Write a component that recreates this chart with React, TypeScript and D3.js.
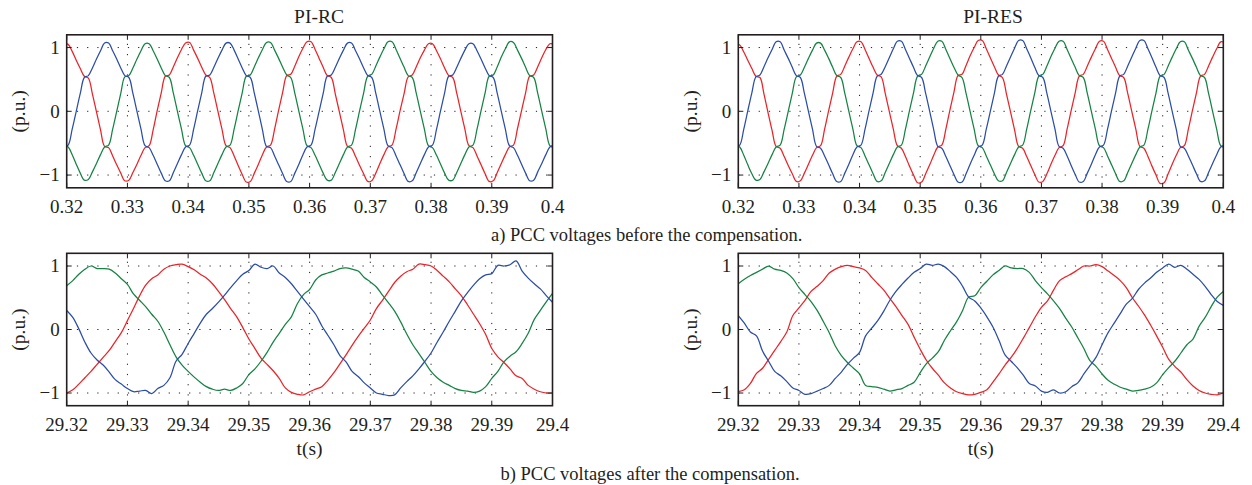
import React from 'react';
import * as d3 from 'd3';

// ---------- data ----------
// Top row: samples every 1/1500 s starting at 0.31957 s (122 samples)
const TOP_T0 = 0.31957;
const TOP_DT = 1 / 1500;
// Bottom row: samples every 1 ms starting at 29.32 s (81 samples)
const BOT_T0 = 29.32;
const BOT_DT = 0.001;

const TOP_X_TICKS = [0.32, 0.33, 0.34, 0.35, 0.36, 0.37, 0.38, 0.39, 0.4];
const TOP_X_LABELS = ['0.32', '0.33', '0.34', '0.35', '0.36', '0.37', '0.38', '0.39', '0.4'];
const BOT_X_TICKS = [29.32, 29.33, 29.34, 29.35, 29.36, 29.37, 29.38, 29.39, 29.4];
const BOT_X_LABELS = ['29.32', '29.33', '29.34', '29.35', '29.36', '29.37', '29.38', '29.39', '29.4'];
const Y_TICKS = [-1, 0, 1];
const Y_LABELS = ['\u22121', '0', '1'];

const RC_RED = [1.06,
  1.05, 0.94, 0.80, 0.67, 0.55, 0.52, 0.27, -0.01, -0.29, -0.55, -0.57, -0.70, -0.84, -0.97, -1.09, -1.08, -0.96, -0.83, -0.69, -0.57, -0.54, -0.29, 0.01, 0.29, 0.55, 0.57, 0.70, 0.84, 0.97, 1.07,
  1.08, 0.96, 0.83, 0.69, 0.57, 0.53, 0.28, 0.00, -0.28, -0.54, -0.57, -0.70, -0.85, -0.99, -1.11, -1.10, -0.97, -0.83, -0.68, -0.56, -0.53, -0.28, 0.02, 0.30, 0.56, 0.58, 0.71, 0.86, 0.99, 1.09,
  1.09, 0.97, 0.83, 0.69, 0.56, 0.53, 0.27, -0.01, -0.29, -0.55, -0.58, -0.71, -0.85, -0.98, -1.10, -1.09, -0.97, -0.82, -0.68, -0.56, -0.53, -0.28, 0.01, 0.28, 0.54, 0.57, 0.70, 0.84, 0.96, 1.06,
  1.06, 0.95, 0.82, 0.68, 0.56, 0.53, 0.28, 0.00, -0.28, -0.54, -0.57, -0.70, -0.84, -0.98, -1.10, -1.09, -0.96, -0.82, -0.68, -0.56, -0.53, -0.27, 0.01, 0.29, 0.55, 0.57, 0.70, 0.84, 0.97, 1.06,
  1.05];
const RC_BLUE = [-0.56,
  -0.53, -0.28, 0.00, 0.28, 0.53, 0.56, 0.68, 0.82, 0.95, 1.07,
  1.07, 0.95, 0.82, 0.68, 0.56, 0.53, 0.28, 0.00, -0.28, -0.54, -0.57, -0.69, -0.83, -0.97, -1.09, -1.09, -0.96, -0.82, -0.68, -0.56, -0.53, -0.28, 0.01, 0.29, 0.55, 0.57, 0.69, 0.83, 0.96, 1.07,
  1.07, 0.96, 0.82, 0.68, 0.56, 0.53, 0.28, 0.00, -0.29, -0.55, -0.57, -0.70, -0.84, -0.98, -1.10, -1.10, -0.97, -0.83, -0.68, -0.56, -0.53, -0.28, 0.00, 0.28, 0.55, 0.57, 0.69, 0.83, 0.96, 1.07,
  1.07, 0.95, 0.82, 0.68, 0.56, 0.53, 0.28, 0.00, -0.28, -0.54, -0.57, -0.70, -0.84, -0.98, -1.10, -1.09, -0.96, -0.82, -0.68, -0.56, -0.53, -0.28, 0.01, 0.29, 0.55, 0.57, 0.69, 0.83, 0.96, 1.06,
  1.06, 0.95, 0.82, 0.68, 0.56, 0.53, 0.28, 0.00, -0.28, -0.54, -0.57, -0.69, -0.83, -0.97, -1.09, -1.08, -0.95, -0.82, -0.68, -0.56, -0.53];
const RC_GREEN = [-0.53,
  -0.56, -0.68, -0.83, -0.97, -1.08, -1.07, -0.95, -0.82, -0.68, -0.56, -0.53, -0.28, 0.00, 0.28, 0.54, 0.56, 0.68, 0.82, 0.95, 1.06,
  1.06, 0.95, 0.82, 0.68, 0.56, 0.53, 0.28, 0.00, -0.28, -0.54, -0.57, -0.69, -0.83, -0.97, -1.09, -1.09, -0.96, -0.82, -0.68, -0.56, -0.53, -0.28, 0.01, 0.29, 0.55, 0.57, 0.70, 0.84, 0.97, 1.08,
  1.08, 0.96, 0.83, 0.69, 0.57, 0.53, 0.28, 0.00, -0.28, -0.54, -0.57, -0.69, -0.83, -0.97, -1.08, -1.08, -0.96, -0.82, -0.68, -0.56, -0.53, -0.28, 0.01, 0.29, 0.55, 0.58, 0.71, 0.85, 0.98, 1.09,
  1.09, 0.97, 0.83, 0.69, 0.56, 0.53, 0.28, 0.00, -0.28, -0.54, -0.57, -0.69, -0.83, -0.97, -1.08, -1.08, -0.96, -0.82, -0.68, -0.56, -0.53, -0.28, 0.01, 0.29, 0.55, 0.57, 0.70, 0.85, 0.98, 1.09,
  1.08, 0.96, 0.83, 0.69, 0.56, 0.53, 0.28, 0.00, -0.28, -0.54, -0.57];

const RES_RED = [1.05,
  1.04, 0.93, 0.80, 0.67, 0.55, 0.53, 0.27, -0.02, -0.30, -0.55, -0.58, -0.71, -0.85, -0.98, -1.10, -1.09, -0.97, -0.83, -0.69, -0.57, -0.54, -0.28, 0.01, 0.29, 0.55, 0.58, 0.71, 0.85, 0.98, 1.09,
  1.09, 0.97, 0.83, 0.69, 0.57, 0.54, 0.28, 0.00, -0.28, -0.54, -0.58, -0.71, -0.86, -1.00, -1.12, -1.11, -0.98, -0.84, -0.69, -0.56, -0.53, -0.28, 0.02, 0.30, 0.56, 0.58, 0.72, 0.87, 1.00, 1.11,
  1.11, 0.98, 0.84, 0.70, 0.57, 0.53, 0.27, -0.01, -0.29, -0.55, -0.58, -0.71, -0.85, -0.99, -1.11, -1.10, -0.98, -0.83, -0.69, -0.57, -0.54, -0.28, 0.01, 0.29, 0.55, 0.58, 0.71, 0.85, 0.98, 1.10,
  1.10, 0.97, 0.83, 0.69, 0.56, 0.53, 0.28, 0.00, -0.28, -0.55, -0.58, -0.71, -0.86, -1.00, -1.13, -1.12, -0.98, -0.83, -0.69, -0.57, -0.54, -0.28, 0.01, 0.29, 0.55, 0.58, 0.71, 0.85, 0.98, 1.09,
  1.08];
const RES_BLUE = [-0.56,
  -0.53, -0.28, 0.01, 0.29, 0.54, 0.57, 0.70, 0.84, 0.97, 1.09,
  1.09, 0.96, 0.83, 0.69, 0.56, 0.53, 0.28, 0.00, -0.28, -0.55, -0.58, -0.70, -0.84, -0.98, -1.10, -1.10, -0.97, -0.83, -0.68, -0.56, -0.53, -0.28, 0.01, 0.29, 0.55, 0.58, 0.70, 0.84, 0.98, 1.10,
  1.10, 0.97, 0.83, 0.69, 0.56, 0.53, 0.28, 0.00, -0.29, -0.55, -0.58, -0.71, -0.85, -0.99, -1.11, -1.11, -0.98, -0.83, -0.69, -0.56, -0.53, -0.28, 0.00, 0.28, 0.55, 0.58, 0.71, 0.85, 0.99, 1.11,
  1.11, 0.98, 0.84, 0.69, 0.56, 0.53, 0.28, 0.00, -0.28, -0.55, -0.58, -0.70, -0.85, -0.99, -1.11, -1.10, -0.97, -0.83, -0.68, -0.56, -0.53, -0.28, 0.01, 0.29, 0.55, 0.58, 0.71, 0.85, 0.99, 1.11,
  1.11, 0.98, 0.84, 0.69, 0.56, 0.53, 0.28, 0.00, -0.28, -0.55, -0.58, -0.70, -0.84, -0.98, -1.10, -1.09, -0.96, -0.82, -0.68, -0.56, -0.53];
const RES_GREEN = [-0.53,
  -0.56, -0.69, -0.84, -0.98, -1.08, -1.07, -0.95, -0.82, -0.68, -0.56, -0.53, -0.28, 0.00, 0.28, 0.54, 0.57, 0.69, 0.83, 0.96, 1.07,
  1.07, 0.96, 0.83, 0.69, 0.56, 0.53, 0.28, 0.00, -0.28, -0.54, -0.57, -0.70, -0.84, -0.98, -1.10, -1.09, -0.96, -0.82, -0.68, -0.56, -0.53, -0.28, 0.01, 0.29, 0.55, 0.58, 0.71, 0.85, 0.99, 1.10,
  1.10, 0.97, 0.83, 0.69, 0.57, 0.53, 0.28, 0.00, -0.28, -0.54, -0.57, -0.70, -0.84, -0.98, -1.09, -1.09, -0.96, -0.82, -0.68, -0.56, -0.53, -0.28, 0.01, 0.29, 0.55, 0.58, 0.71, 0.86, 0.99, 1.10,
  1.10, 0.97, 0.83, 0.69, 0.56, 0.53, 0.28, 0.00, -0.28, -0.54, -0.57, -0.70, -0.84, -0.98, -1.10, -1.09, -0.96, -0.82, -0.68, -0.56, -0.53, -0.28, 0.01, 0.29, 0.55, 0.58, 0.71, 0.85, 0.98, 1.09,
  1.09, 0.96, 0.83, 0.69, 0.56, 0.53, 0.28, 0.00, -0.28, -0.54, -0.57];

const BL_RED = [-1.00, -0.95, -0.86, -0.76, -0.66, -0.55, -0.44, -0.33, -0.19, -0.05,
  0.14, 0.33, 0.53, 0.70, 0.80, 0.86, 0.95, 1.00, 1.02, 1.03,
  0.99, 0.94, 0.87, 0.81, 0.72, 0.60, 0.47, 0.33, 0.20, 0.03,
  -0.15, -0.30, -0.45, -0.55, -0.65, -0.77, -0.92, -0.99, -1.02, -1.03,
  -0.98, -0.94, -0.90, -0.80, -0.68, -0.54, -0.40, -0.25, -0.11, 0.02,
  0.15, 0.33, 0.46, 0.60, 0.74, 0.84, 0.91, 0.95, 1.03, 1.02,
  1.00, 0.93, 0.84, 0.75, 0.64, 0.53, 0.39, 0.24, 0.09, -0.08,
  -0.30, -0.43, -0.52, -0.62, -0.73, -0.77, -0.88, -0.94, -0.98, -1.00,
  -1.00];
const BL_GREEN = [0.69, 0.77, 0.87, 0.95, 1.00, 0.96, 0.96, 0.95, 0.89, 0.80,
  0.71, 0.56, 0.46, 0.36, 0.24, 0.13, -0.04, -0.24, -0.43, -0.56,
  -0.66, -0.75, -0.83, -0.90, -0.94, -0.96, -0.94, -0.96, -0.92, -0.85,
  -0.71, -0.62, -0.50, -0.36, -0.20, -0.06, 0.08, 0.20, 0.41, 0.55,
  0.63, 0.78, 0.86, 0.89, 0.92, 0.96, 0.97, 0.95, 0.92, 0.82,
  0.75, 0.67, 0.54, 0.42, 0.29, 0.12, -0.07, -0.24, -0.38, -0.52,
  -0.66, -0.76, -0.83, -0.88, -0.93, -0.96, -0.97, -0.99, -0.97, -0.90,
  -0.77, -0.66, -0.51, -0.42, -0.35, -0.22, -0.06, 0.16, 0.30, 0.44,
  0.57];
const BL_BLUE = [0.30, 0.19, 0.01, -0.20, -0.37, -0.48, -0.56, -0.67, -0.79, -0.86,
  -0.93, -0.98, -0.97, -0.96, -1.01, -0.93, -0.88, -0.76, -0.50, -0.39,
  -0.22, -0.06, 0.10, 0.24, 0.33, 0.43, 0.54, 0.66, 0.77, 0.87,
  0.93, 1.03, 0.98, 0.96, 1.00, 0.89, 0.82, 0.72, 0.60, 0.48,
  0.36, 0.24, 0.06, -0.09, -0.24, -0.41, -0.51, -0.66, -0.74, -0.84,
  -0.92, -1.00, -1.02, -1.04, -1.03, -0.92, -0.82, -0.73, -0.62, -0.50,
  -0.37, -0.20, -0.04, 0.13, 0.29, 0.45, 0.58, 0.70, 0.80, 0.86,
  0.88, 1.01, 1.00, 1.02, 1.08, 0.92, 0.81, 0.72, 0.64, 0.53,
  0.43];

const BR_RED = [-0.98, -0.95, -0.85, -0.69, -0.61, -0.47, -0.33, -0.19, -0.04, 0.22,
  0.34, 0.46, 0.60, 0.68, 0.77, 0.89, 0.95, 0.99, 1.01, 0.99,
  0.97, 0.93, 0.82, 0.72, 0.62, 0.49, 0.36, 0.22, 0.08, -0.12,
  -0.31, -0.48, -0.61, -0.72, -0.84, -0.92, -0.98, -1.01, -1.03, -1.02,
  -0.99, -0.95, -0.83, -0.70, -0.56, -0.44, -0.30, -0.14, 0.03, 0.20,
  0.35, 0.45, 0.62, 0.77, 0.83, 0.88, 0.94, 1.00, 1.00, 1.02,
  0.99, 0.92, 0.85, 0.77, 0.66, 0.50, 0.37, 0.23, 0.07, -0.10,
  -0.28, -0.47, -0.58, -0.67, -0.79, -0.89, -0.96, -1.00, -1.02, -1.03,
  -1.00];
const BR_GREEN = [0.72, 0.79, 0.85, 0.90, 0.95, 1.00, 0.95, 0.93, 0.89, 0.80,
  0.66, 0.55, 0.44, 0.30, 0.13, -0.05, -0.26, -0.41, -0.52, -0.61,
  -0.70, -0.88, -0.90, -0.91, -0.94, -0.97, -0.95, -0.93, -0.88, -0.83,
  -0.68, -0.54, -0.45, -0.35, -0.17, -0.02, 0.12, 0.30, 0.51, 0.53,
  0.66, 0.76, 0.86, 0.93, 1.00, 0.97, 0.96, 0.96, 0.90, 0.77,
  0.66, 0.56, 0.45, 0.33, 0.18, 0.04, -0.13, -0.30, -0.49, -0.58,
  -0.70, -0.80, -0.86, -0.91, -0.94, -0.97, -0.96, -0.94, -0.91, -0.84,
  -0.71, -0.60, -0.50, -0.37, -0.24, -0.15, 0.05, 0.19, 0.36, 0.51,
  0.60];
const BR_BLUE = [0.22, 0.10, -0.04, -0.10, -0.34, -0.50, -0.66, -0.73, -0.82, -0.92,
  -0.96, -1.02, -1.01, -0.97, -0.93, -0.88, -0.77, -0.67, -0.55, -0.45,
  -0.36, -0.10, 0.02, 0.14, 0.29, 0.46, 0.60, 0.71, 0.81, 0.90,
  0.96, 1.03, 1.01, 1.03, 0.99, 0.91, 0.82, 0.68, 0.51, 0.45,
  0.34, 0.20, 0.04, -0.17, -0.40, -0.50, -0.60, -0.72, -0.85, -0.89,
  -0.97, -0.99, -0.95, -1.00, -0.98, -0.90, -0.84, -0.70, -0.57, -0.44,
  -0.24, -0.05, 0.10, 0.25, 0.40, 0.49, 0.63, 0.73, 0.81, 0.90,
  0.97, 1.03, 0.98, 1.01, 0.95, 0.87, 0.79, 0.68, 0.55, 0.44,
  0.38];

// ---------- style ----------
const RED = '#ec2227';
const GREEN = '#148343';
const BLUE = '#2b4da8';
const INK = '#231f20';
const FONT = '"Liberation Serif", "Times New Roman", Times, serif';

type Series = { t0: number; dt: number; values: number[]; color: string };
type Box = { left: number; right: number; top: number; bottom: number };

function Panel(props: {
  id: string;
  box: Box;
  xDomain: [number, number];
  xTicks: number[];
  xLabels: string[];
  series: Series[];
}) {
  const { id, box, xDomain, xTicks, xLabels, series } = props;
  const x = d3.scaleLinear().domain(xDomain).range([box.left, box.right]);
  const y = d3.scaleLinear().domain([-1.2, 1.2]).range([box.bottom, box.top]);
  const line = d3
    .line<[number, number]>()
    .x((d) => x(d[0]))
    .y((d) => y(d[1]))
    .curve(d3.curveCatmullRom.alpha(0.5));
  const tick = 5;
  return (
    <g>
      <defs>
        <clipPath id={id}>
          <rect x={box.left} y={box.top} width={box.right - box.left} height={box.bottom - box.top} />
        </clipPath>
      </defs>
      {/* grid */}
      <g stroke={INK} strokeWidth={1} strokeDasharray="1.2 9">
        {xTicks.slice(1, -1).map((v) => (
          <line key={'gx' + v} x1={x(v)} x2={x(v)} y1={box.bottom} y2={box.top} />
        ))}
        {Y_TICKS.map((v) => (
          <line key={'gy' + v} x1={box.left} x2={box.right} y1={y(v)} y2={y(v)} />
        ))}
      </g>
      {/* curves */}
      <g clipPath={`url(#${id})`} fill="none" strokeWidth={1.25} strokeLinejoin="round">
        {series.map((s, i) => (
          <path
            key={i}
            stroke={s.color}
            d={line(s.values.map((v, k) => [s.t0 + k * s.dt, v] as [number, number])) || ''}
          />
        ))}
      </g>
      {/* ticks */}
      <g stroke={INK} strokeWidth={1}>
        {xTicks.map((v) => (
          <g key={'tx' + v}>
            <line x1={x(v)} x2={x(v)} y1={box.bottom} y2={box.bottom - tick} />
            <line x1={x(v)} x2={x(v)} y1={box.top} y2={box.top + tick} />
          </g>
        ))}
        {Y_TICKS.map((v) => (
          <g key={'ty' + v}>
            <line x1={box.left} x2={box.left + tick} y1={y(v)} y2={y(v)} />
            <line x1={box.right} x2={box.right - tick} y1={y(v)} y2={y(v)} />
          </g>
        ))}
      </g>
      {/* frame */}
      <rect
        x={box.left}
        y={box.top}
        width={box.right - box.left}
        height={box.bottom - box.top}
        fill="none"
        stroke={INK}
        strokeWidth={1.6}
      />
      {/* tick labels */}
      <g fill={INK} fontFamily={FONT} fontSize={19}>
        {xTicks.map((v, i) => (
          <text key={'lx' + v} x={x(v)} y={box.bottom + 25.5} textAnchor="middle">
            {xLabels[i]}
          </text>
        ))}
        {Y_TICKS.map((v, i) => (
          <text key={'ly' + v} x={box.left - 7} y={y(v)} dy="0.33em" textAnchor="end">
            {Y_LABELS[i]}
          </text>
        ))}
        <text
          transform={`translate(${box.left - 48},${(box.top + box.bottom) / 2}) rotate(-90)`}
          textAnchor="middle"
          dy="0.33em"
          fontSize={19.5}
        >
          (p.u.)
        </text>
      </g>
    </g>
  );
}

export default function App() {
  const TL: Box = { left: 66.7, right: 552.5, top: 34.8, bottom: 187.8 };
  const TR: Box = { left: 738.3, right: 1223.3, top: 34.8, bottom: 187.8 };
  const BL: Box = { left: 66.7, right: 552.5, top: 253.3, bottom: 405.7 };
  const BR: Box = { left: 738.3, right: 1223.3, top: 253.3, bottom: 405.7 };
  const top = (values: number[], color: string): Series => ({ t0: TOP_T0, dt: TOP_DT, values, color });
  const bot = (values: number[], color: string): Series => ({ t0: BOT_T0, dt: BOT_DT, values, color });
  return (
    <div style={{ position: 'absolute', left: 0, top: 0 }}>
      <svg width={1252} height={485} style={{ display: 'block', background: '#fff' }}>
        <rect x={0} y={0} width={1252} height={485} fill="#fff" />
        <Panel
          id="clipTL"
          box={TL}
          xDomain={[0.32, 0.4]}
          xTicks={TOP_X_TICKS}
          xLabels={TOP_X_LABELS}
          series={[top(RC_RED, RED), top(RC_GREEN, GREEN), top(RC_BLUE, BLUE)]}
        />
        <Panel
          id="clipTR"
          box={TR}
          xDomain={[0.32, 0.4]}
          xTicks={TOP_X_TICKS}
          xLabels={TOP_X_LABELS}
          series={[top(RES_RED, RED), top(RES_GREEN, GREEN), top(RES_BLUE, BLUE)]}
        />
        <Panel
          id="clipBL"
          box={BL}
          xDomain={[29.32, 29.4]}
          xTicks={BOT_X_TICKS}
          xLabels={BOT_X_LABELS}
          series={[bot(BL_RED, RED), bot(BL_GREEN, GREEN), bot(BL_BLUE, BLUE)]}
        />
        <Panel
          id="clipBR"
          box={BR}
          xDomain={[29.32, 29.4]}
          xTicks={BOT_X_TICKS}
          xLabels={BOT_X_LABELS}
          series={[bot(BR_RED, RED), bot(BR_GREEN, GREEN), bot(BR_BLUE, BLUE)]}
        />
        <g fill={INK} fontFamily={FONT} textAnchor="middle">
          <text x={319} y={22.7} fontSize={19.5}>PI-RC</text>
          <text x={993} y={22.7} fontSize={19.5}>PI-RES</text>
          <text x={646.7} y={241} fontSize={18.5}>a) PCC voltages before the compensation.</text>
          <text x={309.6} y={455} fontSize={19.5}>t(s)</text>
          <text x={980.8} y={455} fontSize={19.5}>t(s)</text>
          <text x={650} y={480} fontSize={18.5}>b) PCC voltages after the compensation.</text>
        </g>
      </svg>
    </div>
  );
}
